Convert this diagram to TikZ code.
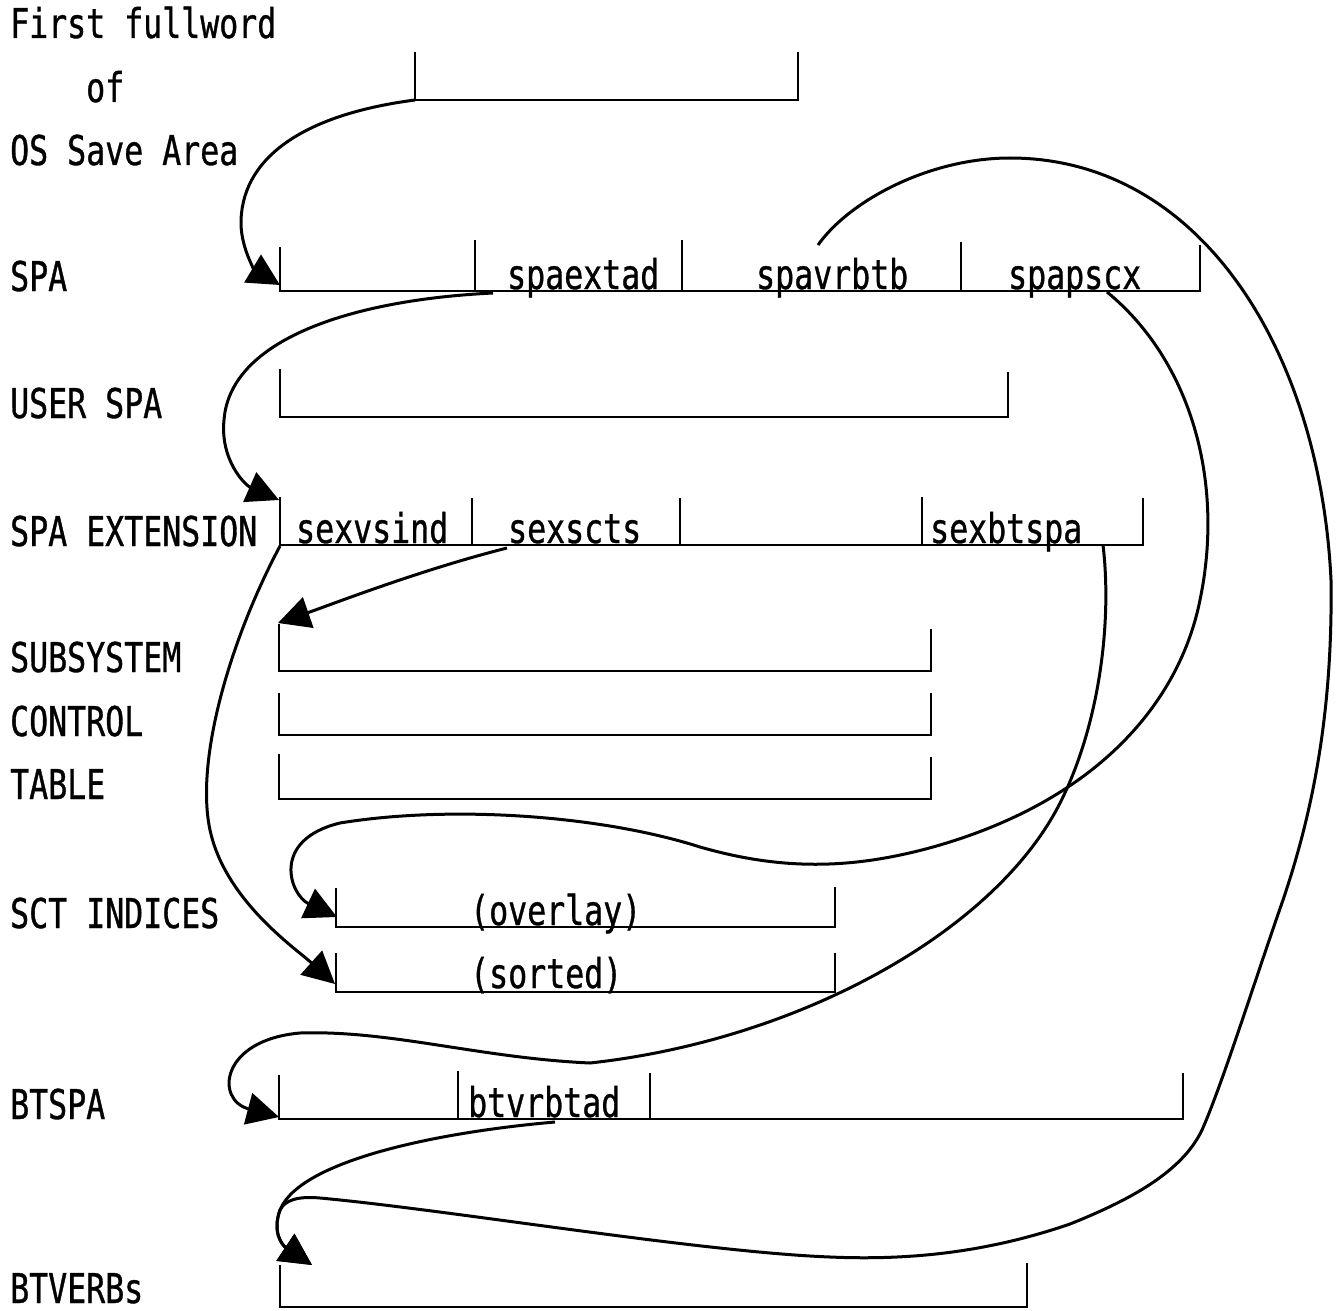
\documentclass[tikz,border=0pt]{standalone}
\usepackage{fontspec}
\newfontfamily\plotfont[FakeStretch=0.77,FakeBold=0.8]{DejaVu Sans Mono}
\usetikzlibrary{arrows.meta}
\begin{document}
\begin{tikzpicture}[x=1pt,y=-1pt,
  lbl/.style={anchor=base west,inner sep=0pt,font=\plotfont\fontsize{41}{41}\selectfont},
  brk/.style={line width=2.4pt,line join=miter},
  link/.style={line width=3pt},
  ptr/.style={link,-{Triangle[length=32pt,width=32pt]}}]
\useasboundingbox (0,0) rectangle (1342,1311);

% ---------- left labels ----------
\node[lbl] (tFirst) at (10,38)  {First fullword};
\node[lbl] (tOf)    at (86,102) {of};
\node[lbl] (tOS)    at (10,165) {OS Save Area};
\node[lbl] (tSPA)   at (10,291) {SPA};
\node[lbl] (tUSER)  at (10,418) {USER SPA};
\node[lbl] (tEXT)   at (10,546) {SPA EXTENSION};
\node[lbl] (tSUB)   at (10,672) {SUBSYSTEM};
\node[lbl] (tCTL)   at (10,736) {CONTROL};
\node[lbl] (tTAB)   at (10,799) {TABLE};
\node[lbl] (tSCT)   at (10,928) {SCT INDICES};
\node[lbl] (tBTSPA) at (10,1119) {BTSPA};
\node[lbl] (tBTV)   at (10,1303) {BTVERBs};

% ---------- field labels ----------
\node[lbl] (fspaextad) at (507,289) {spaextad};
\node[lbl] (fspavrbtb) at (756,289) {spavrbtb};
\node[lbl] (fspapscx)  at (1008,289) {spapscx};
\node[lbl] (fsexvsind) at (296,543) {sexvsind};
\node[lbl] (fsexscts)  at (508,543) {sexscts};
\node[lbl] (fsexbtspa) at (930,543) {sexbtspa};
\node[lbl] (foverlay)  at (470,925) {(overlay)};
\node[lbl] (fsorted)   at (470,988) {(sorted)};
\node[lbl] (fbtvrbtad) at (468,1117) {btvrbtad};

% ---------- brackets ----------
% first fullword
\draw[brk] (415,52) -- (415,100) coordinate (osa) -- (798,100) -- (798,52);
% SPA
\draw[brk] (280,247) -- (280,291) -- (1200,291) -- (1200,245);
\draw[brk] (475,240) -- (475,291);
\draw[brk] (682,240) -- (682,291);
\draw[brk] (961,242) -- (961,291);
% USER SPA
\draw[brk] (280,369) -- (280,417) -- (1008,417) -- (1008,372);
% SPA EXTENSION
\draw[brk] (280,497) -- (280,545) -- (1143,545) -- (1143,498);
\draw[brk] (472,498) -- (472,545);
\draw[brk] (680,498) -- (680,545);
\draw[brk] (922,497) -- (922,545);
% SUBSYSTEM CONTROL TABLE
\draw[brk] (279,624) -- (279,671) -- (931,671) -- (931,629);
\draw[brk] (279,693) -- (279,735) -- (931,735) -- (931,693);
\draw[brk] (279,754) -- (279,799) -- (931,799) -- (931,757);
% SCT indices
\draw[brk] (336,888) -- (336,927) -- (835,927) -- (835,887);
\draw[brk] (336,953) -- (336,992) -- (835,992) -- (835,953);
% BTSPA
\draw[brk] (279,1075) -- (279,1119) -- (1183,1119) -- (1183,1073);
\draw[brk] (458,1071) -- (458,1119);
\draw[brk] (650,1073) -- (650,1119);
% BTVERBs
\draw[brk] (280,1265) -- (280,1307) -- (1027,1307) -- (1027,1263);

% ---------- connector end points ----------
\coordinate (spaT)    at (280,285);
\coordinate (extadS)  at (493,293);
\coordinate (extT)    at (279,500);
\coordinate (sctsS)   at (507,548);
\coordinate (sctT)    at (278,623);
\coordinate (vsindS)  at (280,546);
\coordinate (sortT)   at (335,984);
\coordinate (pscxS)   at (1107,292);
\coordinate (ovlT)    at (337,917);
\coordinate (btspaS)  at (1103,545);
\coordinate (btspaT)  at (279,1117);
\coordinate (vrbtbS)  at (818,245);
\coordinate (btvJ)    at (280,1210);
\coordinate (btvT)    at (312,1265);
\coordinate (btvrbS)  at (555,1122);

% ---------- connectors ----------
% OS save area -> SPA
\draw[ptr] (osa) .. controls (300,115) and (240,160) .. (241,225)
  .. controls (242,250) and (255,270) .. (spaT);
% spaextad -> SPA EXTENSION
\draw[ptr] (extadS) .. controls (350,300) and (230,340) .. (224,420)
  .. controls (220,460) and (245,485) .. (extT);
% sexscts -> SUBSYSTEM CONTROL TABLE
\draw[ptr] (sctsS) .. controls (420,570) and (330,605) .. (sctT);
% sexvsind -> SCT indices (sorted)
\draw[ptr] (vsindS) .. controls (230,640) and (195,760) .. (210,830)
  .. controls (225,900) and (295,948) .. (sortT);
% spapscx -> SCT indices (overlay)
\draw[ptr] (pscxS) .. controls (1190,360) and (1225,480) .. (1200,600)
  .. controls (1180,700) and (1100,800) .. (933,847)
  .. controls (850,870) and (780,870) .. (700,847)
  .. controls (600,815) and (450,805) .. (340,823)
  .. controls (270,840) and (290,895) .. (ovlT);
% sexbtspa -> BTSPA
\draw[ptr] (btspaS) .. controls (1112,620) and (1100,720) .. (1063,797)
  .. controls (1000,930) and (800,1040) .. (590,1063)
  .. controls (480,1058) and (390,1030) .. (300,1033)
  .. controls (220,1040) and (215,1100) .. (btspaT);
% spavrbtb -> BTVERBs
\draw[ptr] (vrbtbS) .. controls (850,200) and (930,158) .. (1010,158)
  .. controls (1200,158) and (1320,350) .. (1331,580)
  .. controls (1333,720) and (1310,820) .. (1283,900)
  .. controls (1255,980) and (1222,1085) .. (1202,1130)
  .. controls (1182,1172) and (1130,1200) .. (1070,1224)
  .. controls (980,1255) and (900,1260) .. (830,1257)
  .. controls (700,1252) and (450,1210) .. (320,1198)
  .. controls (298,1196) and (285,1200) .. (btvJ)
  .. controls (272,1232) and (282,1245) .. (btvT);
% btvrbtad -> BTVERBs
\draw[ptr] (btvrbS) .. controls (440,1132) and (300,1160) .. (btvJ)
  .. controls (272,1232) and (282,1245) .. (btvT);
\end{tikzpicture}
\end{document}
